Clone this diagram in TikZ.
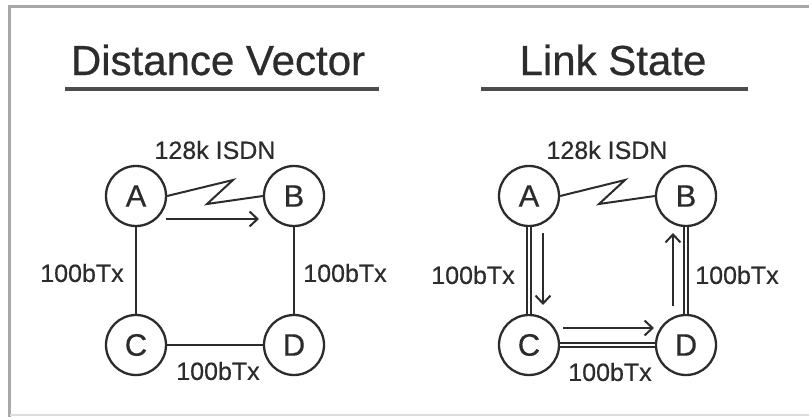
\documentclass[tikz,border=0pt]{standalone}
\usepackage{fontspec}
\setmainfont{Liberation Sans}
\newfontfamily\heavyfont[FakeBold=0.6]{Liberation Sans}
\newfontfamily\midfont[FakeBold=0.4]{Liberation Sans}
\usetikzlibrary{arrows.meta}
\definecolor{ink}{HTML}{2C2C2C}
\definecolor{framegray}{HTML}{A8A8A8}
\definecolor{framelight}{HTML}{DDDDDD}
\begin{document}
\begin{tikzpicture}[x=1pt,y=-1pt,
  router/.style={circle,draw=ink,line width=2.3pt,minimum size=60pt,inner sep=0pt,
    text=ink,font=\midfont\fontsize{31}{34}\selectfont},
  lbl/.style={text=ink,inner sep=0pt,font=\midfont\fontsize{25}{28}\selectfont},
  ttl/.style={text=ink,inner sep=0pt,font=\heavyfont\fontsize{42}{48}\selectfont},
  link/.style={draw=ink,line width=2.3pt},
  dlink/.style={draw=ink,line width=1.5pt,double=white,double distance=2.2pt},
  flow/.style={draw=ink,line width=2pt,-{Straight Barb[length=8pt,width=15pt,line width=2pt]}},
  rule/.style={draw=ink!85,line width=3.2pt}]
\useasboundingbox (0,0) rectangle (809,417);
\fill[white] (0,0) rectangle (809,417);
% frame
\draw[framegray,line width=3pt] (9.5,417) -- (9.5,6.5) -- (809,6.5);
\draw[framelight,line width=2pt] (9.5,414.5) -- (809,414.5);

% ---------- Distance Vector ----------
\node[ttl] (t1) at (218,60) {Distance Vector};
\coordinate (u1a) at (65,89); \coordinate (u1b) at (379,89);
\draw[rule] (u1a) -- (u1b);

\node[router] (A1) at (136,196) {A};
\node[router] (B1) at (294,196) {B};
\node[router] (C1) at (136,345) {C};
\node[router] (D1) at (294,345) {D};

\coordinate (z1a) at (233,180); \coordinate (z1b) at (207,204);
\draw[link,line width=2pt,line join=miter] (A1.east) -- (z1a) -- (z1b) -- (B1.west);
\draw[link] (A1) -- (C1);
\draw[link] (B1) -- (D1);
\draw[link] (C1) -- (D1);

\coordinate (f1a) at (166,219); \coordinate (f1b) at (259,219);
\draw[flow] (f1a) -- (f1b);

\node[lbl] (i1) at (215,150) {128k ISDN};
\node[lbl] (l1) at (82,273) {100bTx};
\node[lbl] (r1) at (345,273) {100bTx};
\node[lbl] (b1) at (218,371) {100bTx};

% ---------- Link State ----------
\node[ttl] (t2) at (613,60) {Link State};
\coordinate (u2a) at (481,89); \coordinate (u2b) at (748,89);
\draw[rule] (u2a) -- (u2b);

\node[router] (A2) at (529,196) {A};
\node[router] (B2) at (686,196) {B};
\node[router] (C2) at (529,345) {C};
\node[router] (D2) at (686,345) {D};

\coordinate (z2a) at (625,180); \coordinate (z2b) at (599,204);
\draw[link,line width=2pt,line join=miter] (A2.east) -- (z2a) -- (z2b) -- (B2.west);
\draw[dlink] (A2) -- (C2);
\draw[dlink] (B2) -- (D2);
\draw[dlink] (C2) -- (D2);

\coordinate (f2a) at (543,233); \coordinate (f2b) at (543,305);
\draw[flow] (f2a) -- (f2b);
\coordinate (f3a) at (563,328); \coordinate (f3b) at (654,328);
\draw[flow] (f3a) -- (f3b);
\coordinate (f4a) at (673,306); \coordinate (f4b) at (673,233);
\draw[flow] (f4a) -- (f4b);

\node[lbl] (i2) at (607,150) {128k ISDN};
\node[lbl] (l2) at (473,275) {100bTx};
\node[lbl] (r2) at (737,275) {100bTx};
\node[lbl] (b2) at (610,372) {100bTx};
\end{tikzpicture}
\end{document}
